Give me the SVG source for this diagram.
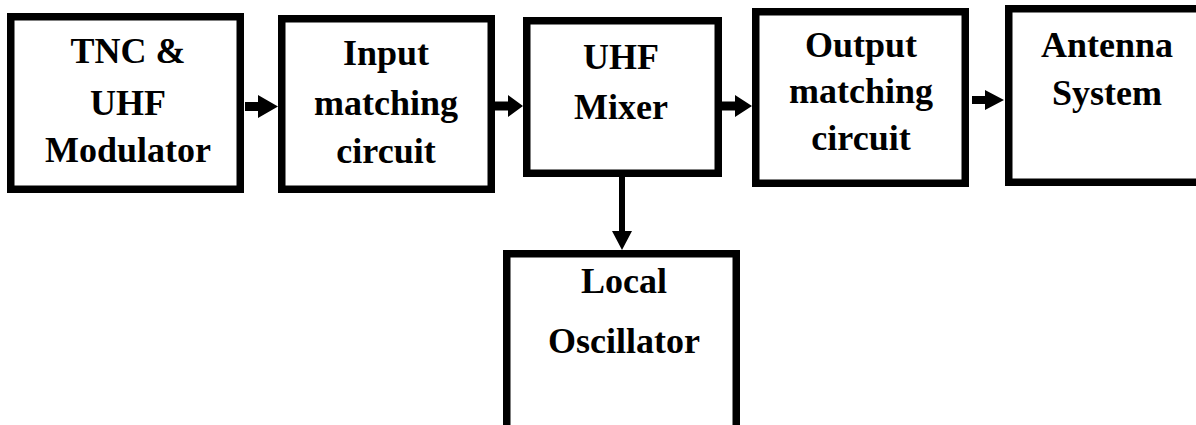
<svg xmlns="http://www.w3.org/2000/svg" width="1196" height="425" viewBox="0 0 1196 425">
<style>
.box{fill:#fff;stroke:#000;stroke-width:7.5}
.t{font-family:"Liberation Serif","Times New Roman",serif;font-weight:bold;font-size:36px;text-anchor:middle;fill:#000}
.arr{fill:#000;stroke:none}
</style>
<rect width="1196" height="425" fill="#fff"/>
<g id="connectors">
<path class="arr" d="M245,102 H258 V95 L278,106.5 L258,118 V111 H245 Z"/>
<path class="arr" d="M495,101.5 H508 V95 L523,106 L508,117 V110.5 H495 Z"/>
<path class="arr" d="M722,101.5 H735 V95 L752,106 L735,117 V110.5 H722 Z"/>
<path class="arr" d="M972,96 H985 V90 L1004,100 L985,110 V104 H972 Z"/>
<path class="arr" d="M619,177 H625 V231 H632 L622,250 L612,231 H619 Z"/>
</g>
<g id="tnc">
<rect class="box" x="10.75" y="16.75" width="229.5" height="172.5"/>
<text class="t" x="128" y="63">TNC &amp;</text>
<text class="t" x="128" y="115">UHF</text>
<text class="t" x="128" y="162">Modulator</text>
</g>
<g id="input">
<rect class="box" x="281.75" y="18.75" width="209.5" height="170.5"/>
<text class="t" x="386" y="65">Input</text>
<text class="t" x="386" y="115">matching</text>
<text class="t" x="386" y="163">circuit</text>
</g>
<g id="mixer">
<rect class="box" x="526.75" y="20.75" width="191.5" height="152.5"/>
<text class="t" x="621" y="69">UHF</text>
<text class="t" x="621" y="119">Mixer</text>
</g>
<g id="output">
<rect class="box" x="755.75" y="11.75" width="209.5" height="171.5"/>
<text class="t" x="861" y="57">Output</text>
<text class="t" x="861" y="103">matching</text>
<text class="t" x="861" y="150">circuit</text>
</g>
<g id="antenna">
<rect class="box" x="1008.75" y="8.75" width="210" height="173.5"/>
<text class="t" x="1107" y="57">Antenna</text>
<text class="t" x="1107" y="105">System</text>
</g>
<g id="oscillator">
<rect class="box" x="506.75" y="253.75" width="229.5" height="200"/>
<text class="t" x="624" y="293">Local</text>
<text class="t" x="624" y="353">Oscillator</text>
</g>
</svg>
